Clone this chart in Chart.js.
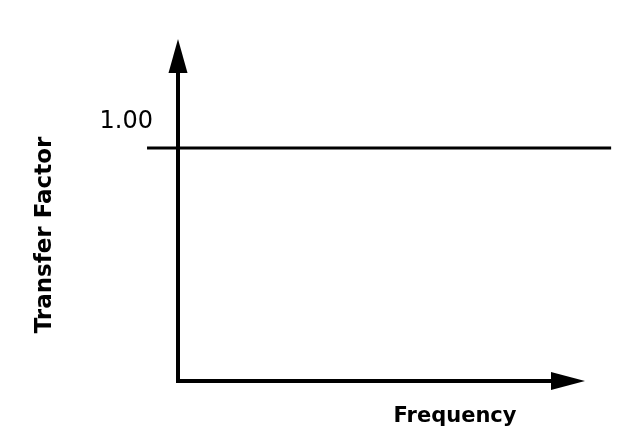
<!DOCTYPE html>
<html>
<head>
<meta charset="utf-8">
<script src="https://cdn.jsdelivr.net/npm/chart.js@4.4.0/dist/chart.umd.min.js"></script>
<style>
html,body{margin:0;padding:0;background:#fff;}
canvas{display:block;}
</style>
</head>
<body>
<canvas id="c" width="640" height="446"></canvas>
<script>
// ---- data ----
const frequency = [-0.078, 1.091];       // relative frequency at the ends of the flat line
const transferFactor = [1.00, 1.00];     // constant transfer factor
const yTickValues = [1.00];
const xTitle = 'Frequency';
const yTitle = 'Transfer Factor';

const NB = '\u00A0';
const INK = '#000';

const arrowPlugin = {
  id: 'axisArrows',
  afterDraw(chart) {
    const { ctx, chartArea: a } = chart;
    ctx.save();
    ctx.fillStyle = INK;
    // y-axis arrow head
    ctx.beginPath();
    ctx.moveTo(a.left, a.top - 10);
    ctx.lineTo(a.left - 9.5, a.top + 24);
    ctx.lineTo(a.left + 9.5, a.top + 24);
    ctx.closePath();
    ctx.fill();
    // x-axis arrow head
    ctx.beginPath();
    ctx.moveTo(a.right + 10, a.bottom);
    ctx.lineTo(a.right - 24, a.bottom - 9);
    ctx.lineTo(a.right - 24, a.bottom + 9);
    ctx.closePath();
    ctx.fill();
    ctx.restore();
  }
};

const points = frequency.map((f, i) => ({ x: f, y: transferFactor[i] }));

new Chart(document.getElementById('c'), {
  type: 'line',
  data: {
    datasets: [{
      label: yTitle,
      data: points,
      borderColor: INK,
      backgroundColor: INK,
      borderWidth: 3,
      pointRadius: 0,
      tension: 0,
      clip: false
    }]
  },
  options: {
    responsive: false,
    animation: false,
    devicePixelRatio: 1,
    layout: { padding: { left: 0, top: 49, right: 65, bottom: 0 } },
    plugins: {
      legend: { display: false },
      tooltip: { enabled: false }
    },
    scales: {
      x: {
        type: 'linear',
        min: 0,
        max: 1,
        afterFit: s => { s.height = 65; s.paddingLeft = 0; s.paddingRight = 0; },
        grid: { display: false, drawTicks: false },
        border: { display: true, width: 4, color: INK },
        ticks: { display: false },
        title: {
          display: true,
          text: xTitle + NB.repeat(8),
          align: 'end',
          color: INK,
          font: { family: 'DejaVu Sans', weight: 'bold', size: 21 },
          padding: { top: 0, bottom: 17 }
        }
      },
      y: {
        type: 'linear',
        min: 0,
        max: 1.425,
        afterBuildTicks: s => { s.ticks = yTickValues.map(v => ({ value: v })); },
        afterFit: s => { s.width = 178; s.paddingTop = 0; s.paddingBottom = 0; },
        grid: { display: false, drawTicks: false, tickLength: 0 },
        border: { display: true, width: 4, color: INK },
        ticks: {
          padding: 25,
          color: INK,
          font: { family: 'DejaVu Sans', size: 24, lineHeight: '52px' },
          callback: v => [Number(v).toFixed(2), '']
        },
        title: {
          display: true,
          text: yTitle + NB.repeat(5),
          color: INK,
          font: { family: 'DejaVu Sans', weight: 'bold', size: 23 },
          padding: { top: 31, bottom: 0 }
        }
      }
    }
  },
  plugins: [arrowPlugin]
});
</script>
</body>
</html>
